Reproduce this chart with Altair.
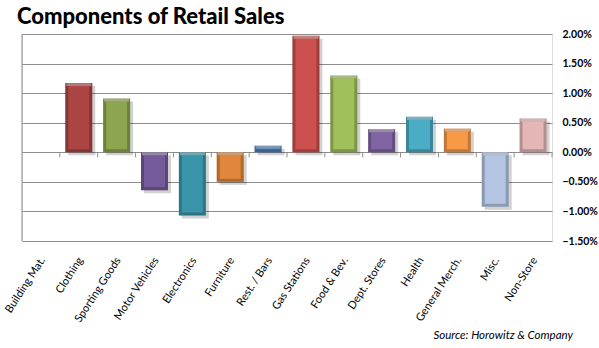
import altair as alt
import pandas as pd

categories = ["Building Mat.", "Clothing", "Sporting Goods", "Motor Vehicles", "Electronics",
              "Furniture", "Rest. / Bars", "Gas Stations", "Food & Bev.", "Dept. Stores",
              "Health", "General Merch.", "Misc.", "Non-Store"]
values = [0.0, 1.17, 0.91, -0.64, -1.07, -0.50, 0.11, 1.97, 1.30, 0.39, 0.60, 0.40, -0.92, 0.57]
colors = ["#4F81BD", "#AB4544", "#8CA54E", "#755A99", "#3A95AA", "#E0873C", "#4A7EBF",
          "#CB504E", "#9FC05A", "#8064A2", "#4BACC6", "#F79A48", "#B3C5E3", "#E5B6B6"]
y_ticks = [-0.015, -0.01, -0.005, 0.0, 0.005, 0.01, 0.015, 0.02]

TITLE = "Components of Retail Sales"
SOURCE = "Source: Horowitz & Company"

W, H = 530, 207
FONT = "Lato"

df = pd.DataFrame({"cat": categories, "v": [x / 100 for x in values], "col": colors})

xenc = alt.X("cat:N", sort=categories,
             scale=alt.Scale(paddingInner=0, paddingOuter=0),
             axis=alt.Axis(title=None, labelAngle=-57, labelAlign="right", labelBaseline="middle",
                           labelPadding=17, labelFontSize=11, labelFont=FONT, labelColor="#000000",
                           domain=False, ticks=False, labelOffset=2, labelOverlap=False,
                           labelBound=False))
yscale = alt.Scale(domain=[-0.015, 0.02], nice=False, zero=False)
yaxis = alt.Axis(title=None, orient="right", values=y_ticks, format=".2%",
                 labelFontSize=10.5, labelFont=FONT, labelFontWeight="bold",
                 labelColor="#000000", labelPadding=10, labelAlign="left",
                 labelOverlap=False, labelFlush=False, labelBound=False,
                 domain=False, ticks=False, grid=True, gridColor="#8C8C8C",
                 gridWidth=1)
yenc = alt.Y("v:Q", scale=yscale, axis=yaxis)
y0 = alt.YDatum(0, type="quantitative", scale=yscale, axis=yaxis)
colenc = alt.Color("col:N", scale=None, legend=None)

base = alt.Chart(df)

shadow = base.mark_bar(size=27, color="#000000", opacity=0.18, xOffset=3, yOffset=3, y2Offset=3).encode(
    x=xenc, y=yenc, y2=alt.datum(0))
bars = base.mark_bar(size=27).encode(x=xenc, y=yenc, y2=alt.datum(0), color=colenc)
dark = base.mark_bar(size=27, color="#000000", opacity=0.22).encode(x=xenc, y=yenc, y2=alt.datum(0))

pos = base.transform_filter("datum.v > 0")
neg = base.transform_filter("datum.v < 0")
face_pos = pos.mark_bar(size=21, yOffset=3, y2Offset=-3).encode(x=xenc, y=yenc, y2=alt.datum(0), color=colenc)
face_neg = neg.mark_bar(size=21, yOffset=-3, y2Offset=3).encode(x=xenc, y=yenc, y2=alt.datum(0), color=colenc)
hl_pos = pos.mark_bar(size=25, color="#FFFFFF", opacity=0.35, y2Offset=3).encode(
    x=xenc, y=yenc, y2=alt.Y2("v:Q"))
hl_neg = neg.mark_bar(size=25, color="#FFFFFF", opacity=0.35, y2Offset=3).encode(
    x=xenc, y=y0, y2=alt.datum(0))

zero_ticks = base.mark_rule(color="#8C8C8C", xOffset=W / len(categories) / 2).encode(
    x=xenc, y=y0, y2=alt.datum(-0.00085))

one = pd.DataFrame({"t": [TITLE], "s": [SOURCE]})
left_line = alt.Chart(one).mark_rule(color="#8C8C8C").encode(
    x=alt.value(0), y=alt.value(0), y2=alt.value(H))
title = alt.Chart(one).mark_text(align="left", baseline="alphabetic", font=FONT, fontSize=22,
                                 fontWeight=900, color="#000000").encode(
    x=alt.value(-5), y=alt.value(-10.5), text="t:N")
source = alt.Chart(one).mark_text(align="right", baseline="alphabetic", font=FONT, fontSize=11.5,
                                  fontStyle="italic", color="#000000").encode(
    x=alt.value(551), y=alt.value(305), text="s:N")

chart = alt.layer(shadow, bars, dark, face_pos, face_neg, hl_pos, hl_neg, zero_ticks,
                  left_line, title, source).properties(
    width=W, height=H,
    autosize=alt.AutoSizeParams(type="none"),
    padding={"left": 22, "top": 34, "right": 47, "bottom": 107},
).configure_view(stroke=None).configure_axis(labelOverlap=False).configure(background="#FFFFFF")

chart.save("out.html", embed_options={"renderer": "svg", "actions": False})
